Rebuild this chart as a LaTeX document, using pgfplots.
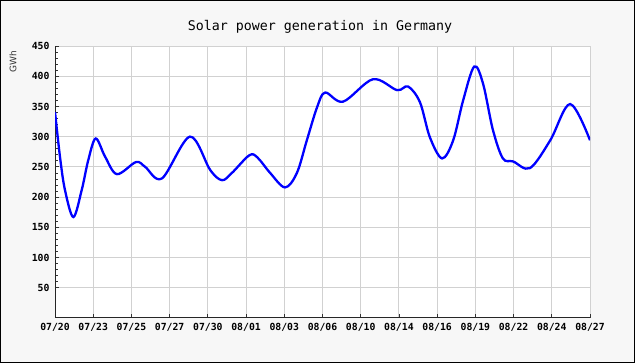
\documentclass[border=0pt]{standalone}
\usepackage{pgfplots}
\pgfplotsset{compat=1.18}
\usepackage{fontspec}
\setmainfont{DejaVu Sans}
\setmonofont{DejaVu Sans Mono}
\begin{document}
\begin{tikzpicture}
\fill[black!3] (0pt,0pt) rectangle (635pt,363pt);
\node[font=\ttfamily\fontsize{13.3}{14}\selectfont] at (320pt,336pt) {Solar power generation in Germany};
\node[rotate=90,font=\fontsize{9}{10}\selectfont,text=black!80] at (13pt,301pt) {GWh};
\begin{axis}[
  at={(55pt,45pt)}, anchor=south west,
  scale only axis, width=535pt, height=272pt,
  xmin=0, xmax=14, ymin=0, ymax=450,
  axis background/.style={fill=white},
  xtick={0,...,14},
  xticklabels={07/20,07/23,07/25,07/27,07/30,08/01,08/03,08/06,08/10,08/14,08/16,08/19,08/22,08/24,08/27},
  ytick={50,100,...,450},
  minor y tick num=4,
  tick align=inside, xtick pos=bottom, ytick pos=left,
  major tick length=4pt, minor tick length=3pt,
  tick style={black!80, line width=0.8pt},
  grid=major,
  major grid style={black!18, line width=0.9pt},
  axis x line*=bottom, axis y line*=left,
  axis line style={black!85, line width=1pt, -},
  /pgf/number format/assume math mode=true,
  ticklabel style={font=\ttfamily\bfseries\fontsize{9.8}{10}\selectfont},
  yticklabel style={xshift=-2pt},
  xticklabel style={yshift=-2pt},
]
\addplot[blue, line width=2.3pt, smooth, tension=0.55] coordinates {
(0,341) (0.13,267) (0.26,212) (0.48,167) (0.70,212) (0.87,261) (1.065,297)
(1.31,267) (1.62,238)
(2.12,258) (2.36,250) (2.80,231) (3.53,300) (4.06,245) (4.37,228)
(4.63,240) (5.08,269) (5.29,266) (5.63,240) (6.02,216) (6.33,240)
(6.59,294) (6.86,349) (7.07,373) (7.54,358) (8.32,395) (8.95,377)
(9.24,383) (9.55,357) (9.81,299) (10.13,264) (10.42,294) (10.68,360)
(10.97,416) (11.2,388) (11.46,311) (11.72,264) (11.99,259) (12.43,248)
(12.96,294) (13.48,354) (14.0,294)
};
\end{axis}
\draw[black,line width=1.2pt] (0.6pt,0.6pt) rectangle (634.4pt,362.4pt);
\end{tikzpicture}
\end{document}
